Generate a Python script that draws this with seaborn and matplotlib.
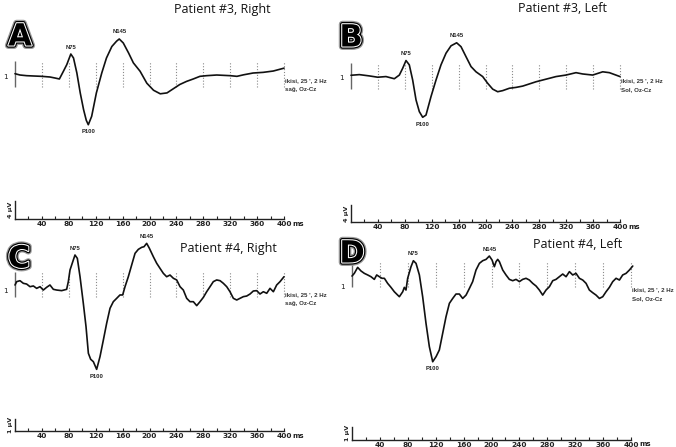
import numpy as np
import pandas as pd
import matplotlib
matplotlib.use("Agg")
import matplotlib.pyplot as plt
import matplotlib.patheffects as pe
import seaborn as sns

# ---------------- data (time in ms, amplitude in µV relative to channel baseline) -------------
a_ms = [0, 7.4, 17.3, 27.3, 39.7, 52, 59.5, 66, 72, 77, 83, 87, 92, 97, 102, 106, 109, 114, 121,
        129, 136, 144, 151, 155, 161, 169, 176, 186, 196, 206, 216, 226, 235, 245, 255, 265, 275,
        285, 300, 320, 330, 340, 354, 369, 384, 400]
a_uv = [0.75, 0.45, 0.3, 0.23, 0.15, 0, -0.23, -0.45, 1.3, 2.8, 5.2, 4.3, 0.9, -3.6, -7.4, -9.8,
        -10.8, -8.9, -3.6, 0.9, 4.3, 6.9, 8.1, 8.6, 7.7, 5.4, 3.2, 1.3, -1.4, -3.0, -3.8, -3.6,
        -2.7, -1.7, -1.0, -0.45, 0.15, 0.3, 0.45, 0.3, 0.15, 0.5, 0.9, 1.05, 1.35, 2.0]

b_ms = [0, 12.4, 27.3, 39.7, 52, 64.4, 71.9, 76.8, 81.8, 86.7, 91.7, 96.7, 101.6, 106.6, 111.5,
        119, 126.4, 133.8, 141.3, 148.7, 157.1, 163.6, 171, 178.5, 185.9, 195.8, 203.2, 210.7,
        218.1, 225.5, 235.5, 245.4, 255.3, 265.2, 275.1, 285, 295, 304.9, 319.7, 334.6, 344.5,
        359.4, 374.3, 384.2, 400]
b_uv = [0.7, 0.85, 0.55, 0.25, 0.4, -0.1, 0.75, 2.3, 4.1, 3.1, -0.4, -5.0, -7.7, -9.0, -8.5,
        -4.2, -0.4, 3.1, 5.8, 7.5, 8.2, 7.3, 5.0, 2.7, 1.5, 0.4, -1.15, -2.5, -3.1, -2.85, -2.3,
        -2.1, -1.8, -1.3, -0.8, -0.4, 0, 0.4, 0.75, 1.3, 1.0, 0.75, 1.5, 1.3, 0.4]

c_ms = [0, 2.5, 7.4, 12.4, 17.3, 22.3, 27.3, 32.2, 37.2, 42.1, 47.1, 52, 57, 62, 69.4, 76.8,
        79.3, 81.8, 86.7, 89.2, 92.7, 96.7, 101.6, 105.6, 109.1, 112.5, 116.5, 121.4, 126.4,
        131.4, 136.3, 141.3, 146.2, 151.2, 156.1, 160.1, 163.6, 168.5, 173.5, 178.5, 183.4,
        188.4, 191.8, 195.8, 199.8, 205.7, 210.7, 215.6, 220.6, 225.5, 230.5, 235.5, 240.4,
        245.4, 250.3, 255.3, 260.2, 265.2, 270.2, 275.1, 280.1, 285, 290, 294.9, 299.9, 304.9,
        309.8, 314.8, 319.7, 324.7, 329.7, 334.6, 339.6, 344.5, 349.5, 354.4, 359.4, 364.3,
        369.3, 374.3, 379.2, 384.2, 389.1, 394.1, 400]
c_uv = [0.5, 0.78, 0.86, 0.64, 0.58, 0.36, 0.42, 0.22, 0.36, 0.08, 0.31, 0.5, 0.14, 0.08, 0.03,
        0.14, 0.78, 1.75, 2.58, 3.0, 2.72, 1.19, -1.03, -2.97, -5.19, -5.69, -5.89, -6.53, -5.47,
        -4.08, -2.69, -1.44, -0.89, -0.61, -0.33, -0.33, 0.36, 1.19, 2.17, 3.14, 3.47, 3.64,
        3.69, 3.97, 3.56, 2.86, 2.31, 1.89, 1.47, 1.19, 1.33, 1.06, 0.92, 0.36, 0.08, -0.61,
        -0.89, -0.89, -1.22, -0.89, -0.53, -0.06, 0.36, 0.78, 0.92, 0.86, 0.64, 0.36, -0.06,
        -0.61, -0.75, -0.61, -0.47, -0.42, -0.25, 0, 0.03, -0.25, -0.06, -0.19, 0.22, -0.06,
        0.5, 0.78, 1.19]

d_ms = [0, 3.3, 8.1, 12.9, 17.7, 22.5, 27.2, 32, 35.4, 39.2, 43, 46.4, 51.1, 55.9, 60.7, 65.5,
        67.9, 72.7, 75, 77.4, 79.8, 84.6, 88, 91.8, 96.6, 101.3, 106.1, 110.9, 115.7, 120.5,
        125.2, 130, 134.8, 139.6, 144.4, 149.1, 153.9, 158.7, 163.5, 168.3, 173, 177.8, 182.6,
        187.4, 192.2, 196.9, 200.8, 204.1, 206.5, 208.9, 211.3, 216.1, 220.8, 225.6, 230.4,
        235.2, 240, 244.7, 249.5, 254.3, 259.1, 263.9, 268.6, 273.4, 278.2, 283, 287.8, 292.5,
        297.3, 302.1, 306.9, 311.7, 316.4, 321.2, 326, 330.8, 335.6, 340.3, 345.1, 349.9, 354.7,
        359.5, 364.2, 369, 373.8, 378.6, 383.4, 388.1, 392.9, 397.7, 402.5]
d_uv = [0.8, 1.0, 1.45, 1.18, 1.0, 0.88, 0.75, 0.55, 0.88, 0.75, 0.63, 0.63, 0.25, -0.05, -0.38,
        -0.63, -0.75, -0.38, -0.05, -0.25, 0.63, 1.5, 1.95, 1.75, 0.88, -0.75, -2.75, -4.5,
        -5.63, -5.25, -4.75, -3.5, -2.25, -1.25, -0.88, -0.55, -0.55, -0.88, -0.63, -0.13, 0.38,
        1.25, 1.75, 1.95, 2.05, 2.3, 2.0, 1.5, 1.88, 2.05, 1.88, 1.25, 0.88, 0.55, 0.45, 0.55,
        0.38, 0.55, 0.63, 0.5, 0.25, 0.05, -0.25, -0.63, -0.25, 0, 0.45, 0.55, 0.75, 0.95, 0.75,
        1.13, 0.88, 1.0, 0.63, 0.5, 0.25, -0.25, -0.45, -0.63, -0.88, -0.75, -0.38, -0.05, 0.38,
        0.63, 0.5, 0.88, 1.0, 1.25, 1.55]

peak_names = ["N75", "P100", "N145"]
a_peaks_ms = [83, 109, 155]
b_peaks_ms = [82, 106.6, 157.1]
c_peaks_ms = [89.2, 121.4, 195.8]
d_peaks_ms = [88, 115.7, 196.9]

titles = ["Patient #3, Right", "Patient #3, Left", "Patient #4, Right", "Patient #4, Left"]
letters = ["A", "B", "C", "D"]
info_line1 = ["ikisi, 25 ', 2 Hz"] * 4
info_line2 = ["sağ, Oz-Cz", "Sol, Oz-Cz", "sağ, Oz-Cz", "Sol, Oz-Cz"]
scale_uv = [4, 4, 1, 1]
tick_ms = list(range(20, 401, 20))

# ---------------- layout (pixel geometry of the reference) ----------------
W, H = 676, 447
layout = [
    dict(x0=15, x400=284, ytop=20, yaxis=219, ybase=77, pxuv=4.42, dots=(3.6, -2.3),
         title=(222, 9), letter=(20, 37), info_dy=(4, 12)),
    dict(x0=351, x400=620, ytop=20, yaxis=222.3, ybase=78.3, pxuv=4.33, dots=(3.6, -2.4),
         title=(562, 9), letter=(351, 38), info_dy=(2.7, 11)),
    dict(x0=15, x400=284, ytop=230, yaxis=431, ybase=291, pxuv=12.0, dots=(1.6, -0.53),
         title=(228, 248), letter=(19, 259), info_dy=(4, 12.3)),
    dict(x0=352, x400=631, ytop=230, yaxis=440, ybase=286.7, pxuv=13.33, dots=(1.9, -0.05),
         title=(578, 244), letter=(352, 254), info_dy=(3.3, 11.6)),
]

series = [(a_ms, a_uv, a_peaks_ms), (b_ms, b_uv, b_peaks_ms),
          (c_ms, c_uv, c_peaks_ms), (d_ms, d_uv, d_peaks_ms)]

sns.set_theme(style="white")
plt.rcParams['font.family'] = ['DejaVu Sans']

fig = plt.figure(figsize=(W / 100, H / 100), dpi=100)
PT = 0.72  # points per pixel
narrow = ['Liberation Sans Narrow', 'Liberation Sans', 'DejaVu Sans']


def note(ax, s, x, y, dx_px, dy_px, **kw):
    ax.annotate(s, xy=(x, y), xytext=(dx_px * PT, -dy_px * PT), textcoords='offset points',
                annotation_clip=False, **kw)


for i, (lay, (ms, uv, pk)) in enumerate(zip(layout, series)):
    left = lay['x0'] / W
    width = (lay['x400'] - lay['x0']) / W
    bottom = 1 - lay['yaxis'] / H
    height = (lay['yaxis'] - lay['ytop']) / H
    ax = fig.add_axes([left, bottom, width, height])
    ax.set_facecolor('none')
    ylo = -(lay['yaxis'] - lay['ybase']) / lay['pxuv']
    yhi = (lay['ybase'] - lay['ytop']) / lay['pxuv']

    df = pd.DataFrame({'ms': ms, 'uv': uv})
    hi, lo = lay['dots']
    ax.vlines(np.arange(40, 401, 40), lo, hi, colors='#8a8a8a', linestyles=(0, (1, 1.6)),
              linewidth=0.8, clip_on=False)
    ax.vlines([0], lo, hi, colors='#666666', linewidth=1.0, clip_on=False)

    sns.lineplot(data=df, x='ms', y='uv', ax=ax, color='#111111', linewidth=1.2,
                 clip_on=False, legend=False)
    ax.set_xlim(0, 400)
    ax.set_ylim(ylo, yhi)
    ax.set_xlabel('')
    ax.set_ylabel('')

    for sp in ['top', 'right']:
        ax.spines[sp].set_visible(False)
    for sp in ['left', 'bottom']:
        ax.spines[sp].set_color('#222222')
        ax.spines[sp].set_linewidth(1.0)
    ax.spines['left'].set_bounds(ylo, ylo + scale_uv[i])
    ax.spines['bottom'].set_bounds(0, 400)
    ax.set_yticks([])
    ax.set_xticks(tick_ms)
    ax.set_xticklabels([str(t) if t % 40 == 0 else '' for t in tick_ms])
    ax.tick_params(axis='x', direction='in', length=2.5, width=0.8, color='#222222',
                   labelsize=5.3, pad=1.5, labelcolor='#222222', bottom=True)
    for lab in ax.get_xticklabels():
        lab.set_fontweight('bold')
    note(ax, 'ms', 400, ylo, 8, 4.5, ha='left', va='center', fontsize=5.0,
         fontweight='bold', color='#222222')

    # scale label
    note(ax, f'{scale_uv[i]} µV', 0, ylo + scale_uv[i] / 2, -4.5, 0, ha='center',
         va='center', rotation=90, fontsize=4.6, fontweight='bold', color='#222222')
    # channel number
    note(ax, '1', 0, 0, -9, 0, ha='center', va='center', fontsize=5.3, color='#222222')

    # peak labels
    for name, t in zip(peak_names, pk):
        v = np.interp(t, ms, uv)
        dy = 7 if name.startswith('P') else -7
        note(ax, name, t, v, 0, dy, ha='center', va='center', fontsize=4.2,
             fontweight='bold', color='#222222', family=narrow)

    # recording info
    note(ax, info_line1[i], 402, 0, 0, lay['info_dy'][0], ha='left', va='center',
         fontsize=4.4, fontweight='bold', color='#333333', family=narrow)
    note(ax, info_line2[i], 402, 0, 0, lay['info_dy'][1], ha='left', va='center',
         fontsize=4.4, fontweight='bold', color='#333333', family=narrow)

    # title and panel letter
    tx, ty = lay['title']
    fig.text(tx / W, 1 - ty / H, titles[i], ha='center', va='center', fontsize=9,
             family=['Open Sans', 'DejaVu Sans'], color='#111111')
    lx, ly = lay['letter']
    fig.text(lx / W, 1 - ly / H, letters[i], ha='center', va='center', fontsize=22,
             fontweight='bold', color='black',
             path_effects=[pe.Stroke(linewidth=5, foreground='#9a9a9a'),
                           pe.Stroke(linewidth=3.2, foreground='black'),
                           pe.Stroke(linewidth=1.5, foreground='white'),
                           pe.Normal()])

fig.savefig('out.png', dpi=100, facecolor='white')
